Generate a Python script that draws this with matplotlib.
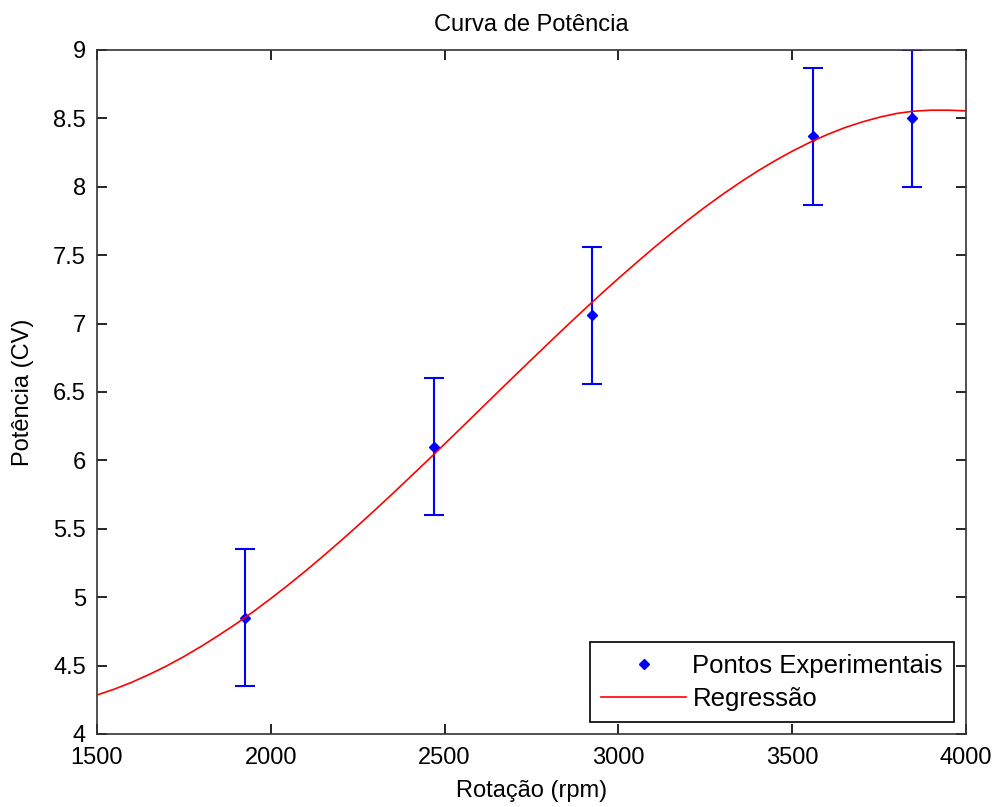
import numpy as np
import matplotlib
matplotlib.use('Agg')
import matplotlib.pyplot as plt

plt.rcParams['font.family'] = ['Liberation Sans', 'DejaVu Sans']

#pontos experimentais
rotacao = [1925, 2470, 2925, 3560, 3845]
potencia = [4.85, 6.10, 7.06, 8.37, 8.50]
erro = [0.5, 0.5, 0.5, 0.5, 0.5]

#curva de regressao (a cada 50 rpm)
rot_reg = [1500, 1550, 1600, 1650, 1700, 1750, 1800, 1850, 1900, 1950,
           2000, 2050, 2100, 2150, 2200, 2250, 2300, 2350, 2400, 2450,
           2500, 2550, 2600, 2650, 2700, 2750, 2800, 2850, 2900, 2950,
           3000, 3050, 3100, 3150, 3200, 3250, 3300, 3350, 3400, 3450,
           3500, 3550, 3600, 3650, 3700, 3750, 3800, 3850, 3900, 3950, 4000]
pot_reg = [4.285, 4.328, 4.378, 4.435, 4.497, 4.566, 4.641, 4.721, 4.805, 4.895,
           4.990, 5.089, 5.192, 5.299, 5.409, 5.522, 5.638, 5.756, 5.876, 5.997,
           6.120, 6.243, 6.367, 6.491, 6.615, 6.737, 6.859, 6.980, 7.099, 7.216,
           7.330, 7.441, 7.550, 7.655, 7.756, 7.853, 7.945, 8.032, 8.114, 8.190,
           8.260, 8.324, 8.381, 8.431, 8.473, 8.508, 8.536, 8.553, 8.560, 8.560, 8.555]

xticks = [1500, 2000, 2500, 3000, 3500, 4000]
yticks = [4, 4.5, 5, 5.5, 6, 6.5, 7, 7.5, 8, 8.5, 9]

fig = plt.figure(figsize=(9.98, 8.07), dpi=100)
ax = fig.add_axes([97/998, 73/807, 869/998, 684/807])

ax.errorbar(rotacao, potencia, yerr=erro, fmt='none', ecolor='blue', elinewidth=1.5,
            capsize=7, capthick=1.5, zorder=2)
ax.plot(rotacao, potencia, 'D', color='blue', markersize=5, label='Pontos Experimentais', zorder=3)
ax.plot(rot_reg, pot_reg, '-', color='red', linewidth=1.2, label='Regressão', zorder=4)

ax.set_xlim(1500, 4000)
ax.set_ylim(4, 9)
ax.set_xticks(xticks)
ax.set_yticks(yticks)
ax.set_yticklabels([('%g' % v) for v in yticks])
ax.tick_params(direction='in', top=True, right=True, length=7, width=1.2, labelsize=17)
ax.tick_params(axis='x', pad=9)
ax.tick_params(axis='y', pad=8)
for s in ax.spines.values():
	s.set_linewidth(1.2)
	s.set_color('#333333')

ax.set_xlabel('Rotação (rpm)', fontsize=17, labelpad=8)
ax.set_ylabel('Potência (CV)', fontsize=17, labelpad=14)
ax.set_title('Curva de Potência', fontsize=17, pad=14)

leg = ax.legend(loc='lower right', fontsize=18.5, fancybox=False, framealpha=1,
                edgecolor='black', borderaxespad=0.45, handlelength=3.3, borderpad=0.45,
                labelspacing=0.35, handletextpad=0.25)
leg.get_frame().set_linewidth(1.2)

fig.savefig('out.png', dpi=100)
